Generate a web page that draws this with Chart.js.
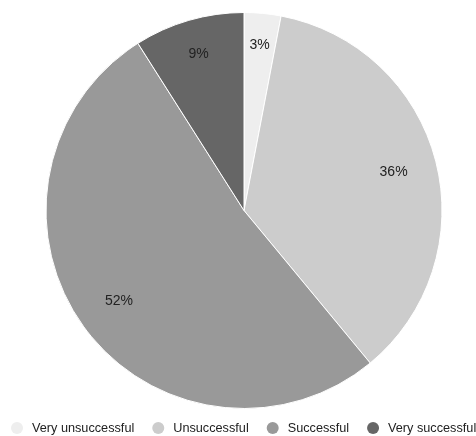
<!DOCTYPE html>
<html lang="en">
<head>
  <meta charset="UTF-8">
  <title>Outcome ratings</title>
  <script src="https://cdn.jsdelivr.net/npm/chart.js"></script>
  <style>
    body {
      margin: 0;
      background: #fff;
      overflow: hidden;
    }

    #wrap {
      width: 476px;
      height: 436px;
    }
  </style>
</head>
<body>
  <div id="wrap"><canvas id="ratingChart" width="476" height="436"></canvas></div>

  <script>
    const categories = ['Very unsuccessful', 'Unsuccessful', 'Successful', 'Very successful'];
    const shares = [3, 36, 52, 9];
    const sliceColors = ['#eeeeee', '#cccccc', '#999999', '#666666'];

    const FONT = "'Liberation Sans', Arial, sans-serif";

    // percentage text inside each slice, thin slices sit a little further out
    const sliceLabels = {
      id: 'sliceLabels',
      afterDatasetsDraw(chart, args, opts) {
        const ctx = chart.ctx;
        const total = shares.reduce((a, b) => a + b, 0);
        chart.getDatasetMeta(0).data.forEach((arc, i) => {
          const p = arc.getProps(['x', 'y', 'startAngle', 'endAngle', 'outerRadius'], true);
          const mid = (p.startAngle + p.endAngle) / 2;
          const r = p.outerRadius * opts.radius[i];
          ctx.save();
          ctx.font = '14px ' + FONT;
          ctx.fillStyle = '#222';
          ctx.textAlign = 'center';
          ctx.textBaseline = 'middle';
          ctx.fillText(Math.round(shares[i] / total * 100) + '%', p.x + Math.cos(mid) * r, p.y + Math.sin(mid) * r);
          ctx.restore();
        });
      }
    };

    // single row legend along the bottom edge
    const bottomLegend = {
      id: 'bottomLegend',
      afterDraw(chart, args, opts) {
        const ctx = chart.ctx;
        ctx.save();
        ctx.font = '12.7px ' + FONT;
        ctx.textBaseline = 'middle';
        let x = opts.left;
        categories.forEach((name, i) => {
          ctx.beginPath();
          ctx.arc(x + 6, opts.y, 6, 0, Math.PI * 2);
          ctx.fillStyle = sliceColors[i];
          ctx.fill();
          ctx.fillStyle = '#222';
          ctx.fillText(name, x + 21, opts.y);
          x += 21 + ctx.measureText(name).width + opts.gap;
        });
        ctx.restore();
      }
    };

    new Chart(document.getElementById('ratingChart'), {
      type: 'pie',
      data: {
        labels: categories,
        datasets: [{
          data: shares,
          backgroundColor: sliceColors,
          borderColor: '#ffffff',
          borderWidth: 1,
          hoverOffset: 0
        }]
      },
      options: {
        responsive: false,
        animation: false,
        layout: { padding: { top: 12, left: 12, right: 0, bottom: 27 } },
        plugins: {
          legend: { display: false },
          tooltip: { enabled: false },
          sliceLabels: { radius: [0.84, 0.78, 0.78, 0.82] },
          bottomLegend: { left: 11, y: 428, gap: 18 }
        }
      },
      plugins: [sliceLabels, bottomLegend]
    });
  </script>
</body>
</html>
